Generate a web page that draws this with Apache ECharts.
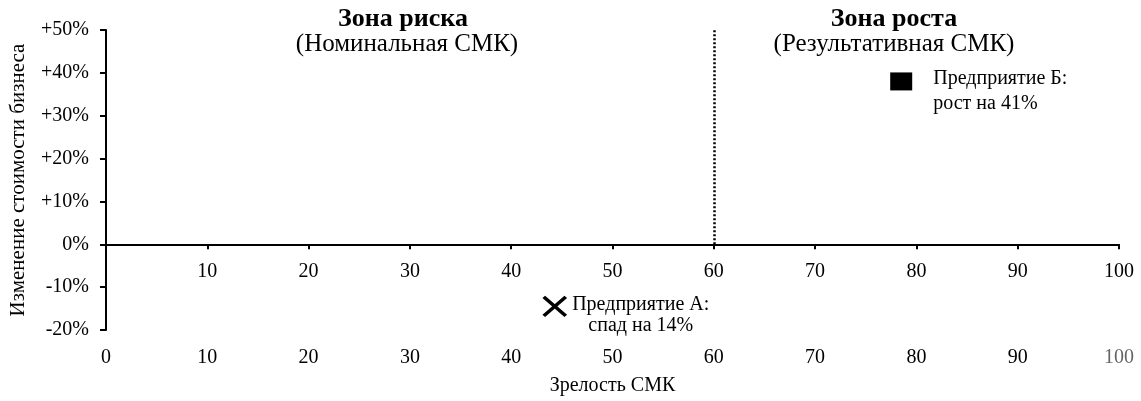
<!DOCTYPE html>
<html>
<head>
<meta charset="utf-8">
<script src="https://cdn.jsdelivr.net/npm/echarts@6/dist/echarts.min.js"></script>
<style>
html,body{margin:0;padding:0;background:#fff;}
#chart{width:1141px;height:401px;}
</style>
</head>
<body>
<div id="chart"></div>
<script>
// ---- data ----
const companyNames = ['Предприятие А', 'Предприятие Б'];
const maturity = [44.3, 78.5];          // Зрелость СМК
const valueChange = [-14.5, 38];        // Изменение стоимости бизнеса, %
const captions = ['Предприятие А:\nспад на 14%', 'Предприятие Б:\nрост на 41%'];
const thresholdMaturity = 60;
const yRange = [-20, 50];
const xRange = [0, 100];
const zeroAxisTickLabels = [10, 20, 30, 40, 50, 60, 70, 80, 90, 100];
const zoneTitles = ['Зона риска', 'Зона роста'];
const zoneSubtitles = ['(Номинальная СМК)', '(Результативная СМК)'];
const xAxisName = 'Зрелость СМК';
const yAxisName = 'Изменение стоимости бизнеса';

const FONT = '"Liberation Serif", "Times New Roman", serif';
const chart = echarts.init(document.getElementById('chart'));

const option = {
  backgroundColor: '#ffffff',
  animation: false,
  textStyle: { fontFamily: FONT, color: '#000' },
  grid: { left: 106, right: 22, top: 30, bottom: 67, containLabel: false },
  graphic: [
    { type: 'text', x: 403, y: 19, style: { text: zoneTitles[0], font: 'bold 26px ' + FONT, fill: '#000', textAlign: 'center', textVerticalAlign: 'middle' } },
    { type: 'text', x: 407, y: 44, style: { text: zoneSubtitles[0], font: '25px ' + FONT, fill: '#000', textAlign: 'center', textVerticalAlign: 'middle' } },
    { type: 'text', x: 894, y: 19, style: { text: zoneTitles[1], font: 'bold 26px ' + FONT, fill: '#000', textAlign: 'center', textVerticalAlign: 'middle' } },
    { type: 'text', x: 894, y: 44, style: { text: zoneSubtitles[1], font: '25px ' + FONT, fill: '#000', textAlign: 'center', textVerticalAlign: 'middle' } }
  ],
  xAxis: [
    {
      type: 'value', min: xRange[0], max: xRange[1], interval: 10,
      axisLine: { onZero: true, lineStyle: { color: '#000', width: 2 } },
      axisTick: { show: true, length: 5, lineStyle: { color: '#000', width: 2 } },
      axisLabel: { show: false },
      splitLine: { show: false }
    },
    {
      type: 'value', min: xRange[0], max: xRange[1], interval: 10, position: 'bottom',
      axisLine: { show: false, onZero: false },
      axisTick: { show: false },
      axisLabel: { margin: 18, fontSize: 20, fontFamily: FONT, color: '#000',
        formatter: v => v === 100 ? '{g|100}' : String(v),
        rich: { g: { fontSize: 20, fontFamily: FONT, color: '#666' } } },
      splitLine: { show: false },
      name: xAxisName, nameLocation: 'middle', nameGap: 46,
      nameTextStyle: { fontSize: 20, fontFamily: FONT, color: '#000' }
    }
  ],
  yAxis: {
    type: 'value', min: yRange[0], max: yRange[1], interval: 10,
    axisLine: { show: true, lineStyle: { color: '#000', width: 2 } },
    axisTick: { show: true, length: 6, lineStyle: { color: '#000', width: 2 } },
    axisLabel: { margin: 17, fontSize: 20, fontFamily: FONT, color: '#000',
      formatter: v => (v > 0 ? '+' : '') + v + '%' },
    splitLine: { show: false },
    name: yAxisName, nameLocation: 'middle', nameGap: 77, nameRotate: 90,
    nameTextStyle: { fontSize: 21, fontFamily: FONT, color: '#000' }
  },
  series: [
    {
      name: 'zeroAxisLabels', type: 'scatter', xAxisIndex: 0, silent: true,
      data: zeroAxisTickLabels.map(v => [v, 0]),
      symbolSize: 1,
      itemStyle: { color: 'rgba(0,0,0,0)', opacity: 1 },
      label: { show: true, position: 'bottom', distance: 17, fontSize: 20,
        fontFamily: FONT, color: '#000', formatter: p => String(p.value[0]) }
    },
    {
      name: companyNames[0], type: 'scatter', xAxisIndex: 0,
      data: [[maturity[0], valueChange[0]]],
      symbol: 'path://M0,0L10,10M10,0L0,10',
      symbolSize: [22, 19],
      itemStyle: { color: '#000', borderColor: '#000', borderWidth: 3.5, opacity: 1 },
      label: { show: true, position: 'inside', align: 'center', verticalAlign: 'middle',
        offset: [86, 9], formatter: captions[0], fontSize: 20, lineHeight: 21,
        fontFamily: FONT, color: '#000' },
      markLine: {
        silent: true, symbol: 'none', animation: false,
        lineStyle: { color: '#000', width: 2.5, type: [2, 2] },
        label: { show: false },
        data: [[{ coord: [thresholdMaturity, 0] }, { coord: [thresholdMaturity, yRange[1]] }]]
      }
    },
    {
      name: companyNames[1], type: 'scatter', xAxisIndex: 0,
      data: [[maturity[1], valueChange[1]]],
      symbol: 'rect',
      symbolSize: [22, 18],
      itemStyle: { color: '#000', opacity: 1 },
      label: { show: true, position: 'inside', align: 'left', verticalAlign: 'middle',
        offset: [32, 10], formatter: captions[1], fontSize: 20, lineHeight: 25,
        fontFamily: FONT, color: '#000' }
    }
  ]
};
chart.setOption(option);
</script>
</body>
</html>
